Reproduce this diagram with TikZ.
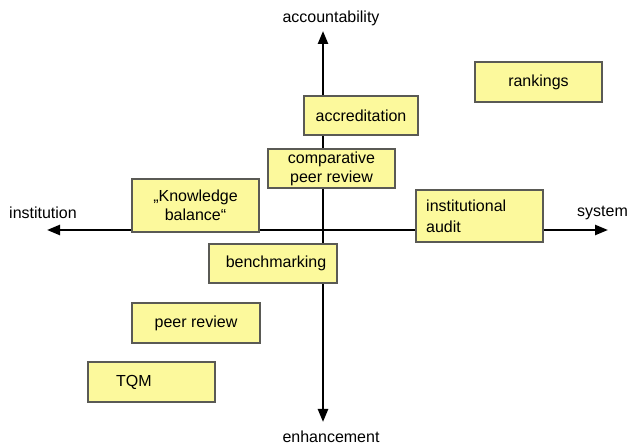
\documentclass[tikz,border=0pt]{standalone}
\usepackage{fontspec}
\setmainfont{Liberation Sans}
\usetikzlibrary{arrows.meta}
\definecolor{boxfill}{HTML}{FCF99C}
\definecolor{boxline}{HTML}{5A5A55}
\begin{document}
\begin{tikzpicture}[x=1pt,y=-1pt,
  box/.style={draw=boxline,line width=1.6pt,fill=boxfill,inner sep=0pt,
    minimum width=127pt,minimum height=40pt,font=\fontsize{16}{19}\selectfont,align=center},
  lbl/.style={inner sep=0pt,font=\fontsize{16}{19}\selectfont},
  axis/.style={line width=2.4pt,{Triangle[length=13pt,width=10pt]}-{Triangle[length=13pt,width=10pt]}}]
\useasboundingbox (0,0) rectangle (627,446);
\fill[white] (0,0) rectangle (627,446);
% axes
\coordinate (N) at (323,31);
\coordinate (S) at (323,422);
\coordinate (W) at (47,230);
\coordinate (E) at (608,230);
\draw[axis] (N) -- (S);
\draw[axis] (W) -- (E);
% axis labels
\node[lbl] (acc) at (331,18) {accountability};
\node[lbl] (enh) at (331,437) {enhancement};
\node[lbl,anchor=west] (inst) at (9,213) {institution};
\node[lbl,anchor=west] (sys) at (577,213) {system};
% boxes
\node[box,minimum width=114pt,minimum height=39pt] (accr) at (361,115.5) {accreditation};
\node[box,minimum height=39pt] (cpr) at (331.5,168.5) {comparative\\peer review};
\node[box,minimum height=53pt] (kb) at (195.5,205.5) {„Knowledge\\balance“};
\node[box] (rank) at (538.5,82) {rankings};
\node[box,minimum height=52pt] (ia) at (479.5,216) {};
\node[lbl,anchor=west,align=left,font=\fontsize{16}{21}\selectfont] (iatext) at (426,216) {institutional\\audit};
\node[box,minimum width=128pt,minimum height=39pt] (bench) at (273,263.5) {\hspace*{6pt}benchmarking};
\node[box,minimum width=128pt] (peer) at (196,323) {peer review};
\node[box] (tqm) at (151.5,382) {};
\node[lbl,anchor=west] (tqmtext) at (116,382) {TQM};
\end{tikzpicture}
\end{document}
